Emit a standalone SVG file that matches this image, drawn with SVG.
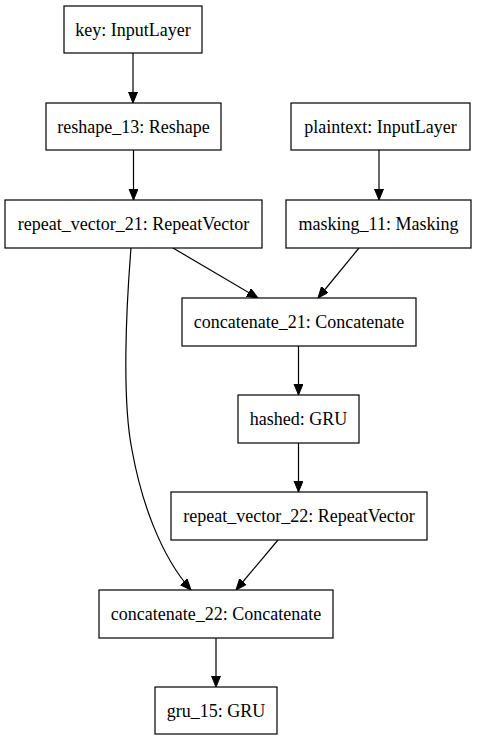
<svg xmlns="http://www.w3.org/2000/svg" width="477" height="741" viewBox="0 0 477 741">
<style>
.n rect{fill:#fff;stroke:#000;stroke-width:1.2}
.n text{font-family:"Liberation Serif","Times New Roman",serif;font-size:18px;fill:#000;text-anchor:middle}
.e path{fill:none;stroke:#000;stroke-width:1.2;marker-end:url(#ah)}
</style>
<defs>
<marker id="ah" markerUnits="userSpaceOnUse" markerWidth="12" markerHeight="10" refX="11" refY="4.5" orient="auto">
<path d="M0,0 L11,4.5 L0,9 z" fill="#000" stroke="#000" stroke-width="1"/>
</marker>
</defs>
<rect width="477" height="741" fill="#fff"/>
<g id="edges" class="e">
<path d="M133,53 L133,103"/>
<path d="M133.5,150 L133.5,200"/>
<path d="M379,150 L379,200"/>
<path d="M173,248 L258,298"/>
<path d="M359,248 L318,298"/>
<path d="M298.5,346 L298.5,395"/>
<path d="M298.5,443 L298.5,492"/>
<path d="M278,540 L236,590"/>
<path d="M131,248 C126,310 122,400 132,450 C141,500 160,555 191,590"/>
<path d="M216,638 L216,687"/>
</g>
<g id="key" class="n"><rect x="64" y="6" width="138" height="47"/><text x="133" y="35.5">key: InputLayer</text></g>
<g id="reshape_13" class="n"><rect x="46" y="103" width="175" height="47"/><text x="133.5" y="132.5">reshape_13: Reshape</text></g>
<g id="plaintext" class="n"><rect x="291" y="103" width="179" height="47"/><text x="380.5" y="132.5">plaintext: InputLayer</text></g>
<g id="repeat_vector_21" class="n"><rect x="5" y="200" width="257" height="48"/><text x="133.5" y="230">repeat_vector_21: RepeatVector</text></g>
<g id="masking_11" class="n"><rect x="286" y="200" width="185" height="48"/><text x="378.5" y="230">masking_11: Masking</text></g>
<g id="concatenate_21" class="n"><rect x="182" y="298" width="234" height="48"/><text x="299" y="328">concatenate_21: Concatenate</text></g>
<g id="hashed" class="n"><rect x="238" y="395" width="121" height="48"/><text x="298.5" y="425">hashed: GRU</text></g>
<g id="repeat_vector_22" class="n"><rect x="171" y="492" width="256" height="48"/><text x="299" y="522">repeat_vector_22: RepeatVector</text></g>
<g id="concatenate_22" class="n"><rect x="99" y="590" width="234" height="48"/><text x="216" y="620">concatenate_22: Concatenate</text></g>
<g id="gru_15" class="n"><rect x="155" y="687" width="122" height="47"/><text x="216" y="716.5">gru_15: GRU</text></g>
</svg>
